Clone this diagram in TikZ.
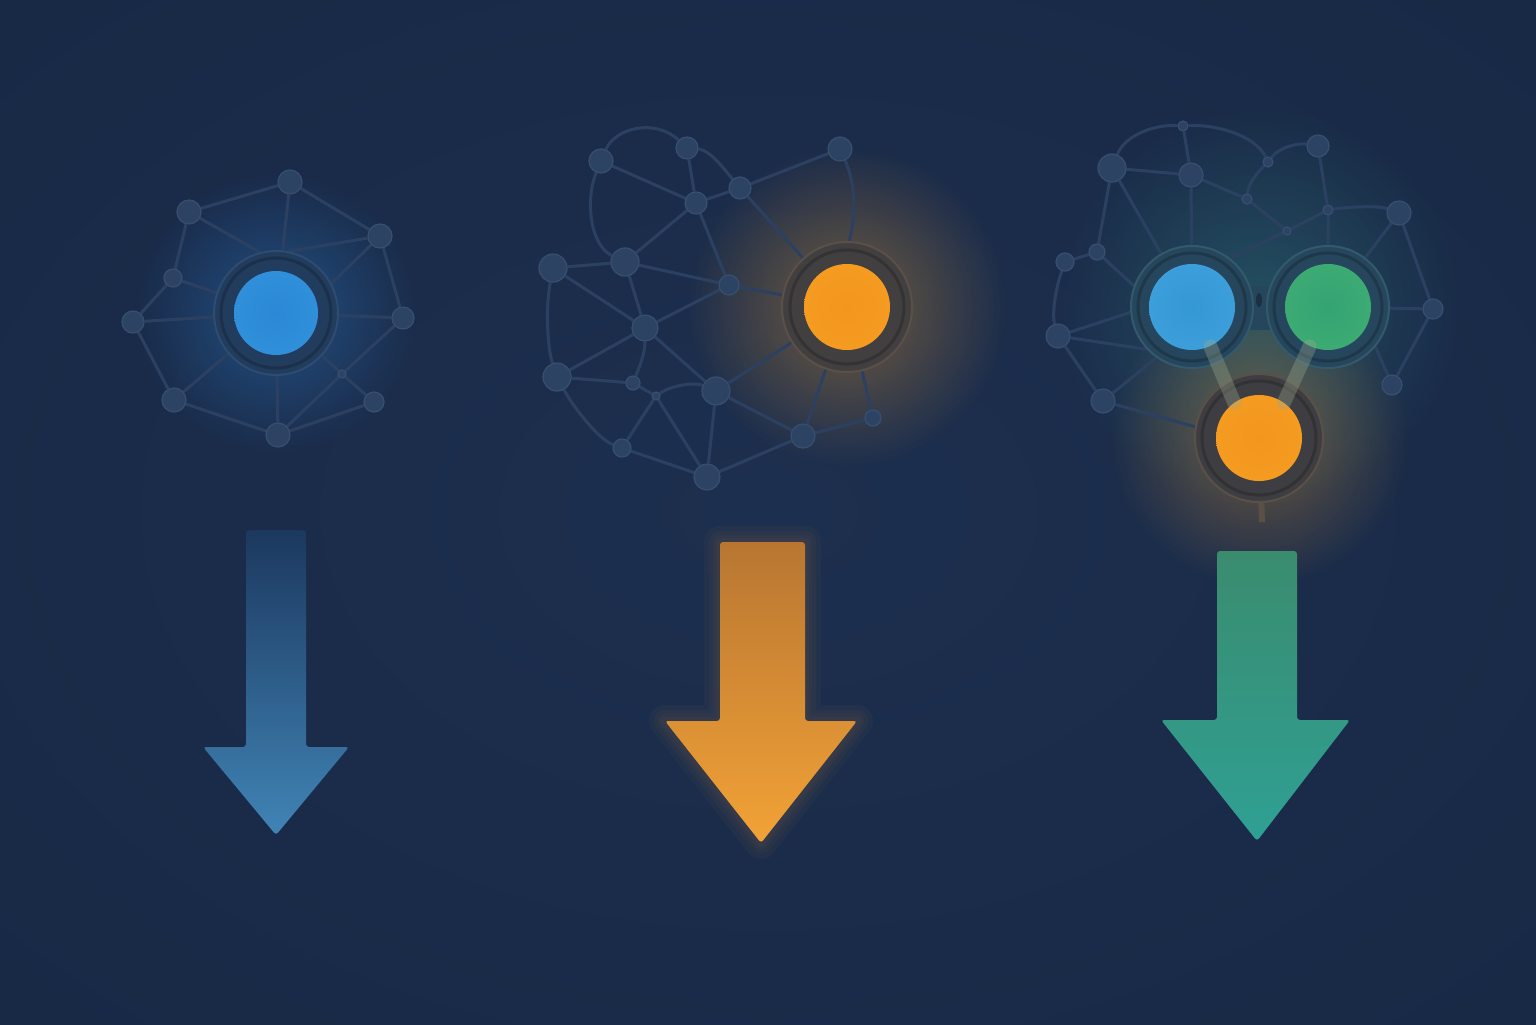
\documentclass[tikz,border=0pt]{standalone}
\usetikzlibrary{fadings}
\definecolor{bgC}{HTML}{1D2F4E}
\definecolor{bgM}{HTML}{182946}
\definecolor{bgE}{HTML}{111B32}
\definecolor{satfill}{HTML}{2D4363}
\definecolor{satedge}{HTML}{384F70}
\definecolor{edgec}{HTML}{2C4161}
\definecolor{ringB}{HTML}{223C5E}
\definecolor{ringBe}{HTML}{2E4C70}
\definecolor{ringO}{HTML}{423F41}
\definecolor{ringOe}{HTML}{5A5048}
\definecolor{ringT}{HTML}{26465D}
\definecolor{ringTe}{HTML}{335A6C}
\definecolor{ringO3}{HTML}{3E3E42}
\definecolor{cbIn}{HTML}{2A88D6}
\definecolor{cbMid}{HTML}{3494DC}
\definecolor{cbRim}{HTML}{58BEF0}
\definecolor{coIn}{HTML}{F3961E}
\definecolor{coMid}{HTML}{F59E22}
\definecolor{coRim}{HTML}{FFB834}
\definecolor{cgIn}{HTML}{34A474}
\definecolor{cgMid}{HTML}{42AE72}
\definecolor{cgRim}{HTML}{72D27A}
\definecolor{ctIn}{HTML}{3598D6}
\definecolor{ctMid}{HTML}{40A2DC}
\definecolor{ctRim}{HTML}{66CDEE}
\definecolor{glowB}{HTML}{2F86DA}
\definecolor{glowO}{HTML}{F0A030}
\definecolor{glowT}{HTML}{3FB0A0}
\definecolor{linkc}{HTML}{9AA88E}
\definecolor{a1top}{HTML}{1C385E}
\definecolor{a1bot}{HTML}{4084B6}
\definecolor{a2top}{HTML}{B87632}
\definecolor{a2bot}{HTML}{F2A236}
\definecolor{a3top}{HTML}{3A8C6E}
\definecolor{a3bot}{HTML}{2FA094}
\pgfdeclareradialshading{bgshade}{\pgfpointorigin}{color(0bp)=(bgC); color(35bp)=(bgM); color(72bp)=(bgE)}
\pgfdeclareradialshading{coreblue}{\pgfpointorigin}{color(0bp)=(cbIn); color(40bp)=(cbMid); color(50bp)=(cbRim)}
\pgfdeclareradialshading{coreorange}{\pgfpointorigin}{color(0bp)=(coIn); color(40bp)=(coMid); color(50bp)=(coRim)}
\pgfdeclareradialshading{coregreen}{\pgfpointorigin}{color(0bp)=(cgIn); color(40bp)=(cgMid); color(50bp)=(cgRim)}
\pgfdeclareradialshading{coreteal}{\pgfpointorigin}{color(0bp)=(ctIn); color(40bp)=(ctMid); color(50bp)=(ctRim)}
\tikzfading[name=glowfade, inner color=transparent!0, outer color=transparent!100]
\pgfdeclarelayer{bg}
\pgfdeclarelayer{edges}
\pgfsetlayers{bg,edges,main}
\tikzset{
  sat/.style={circle, inner sep=0pt, minimum size=#1pt, fill=satfill, draw=satedge, line width=0.6pt},
  hubring/.style={circle, inner sep=0pt, minimum size=#1pt, line width=1pt},
  core/.style={circle, inner sep=0pt, minimum size=#1pt},
  ln/.style={draw=edgec, line width=1.5pt},
  link3/.style={draw=linkc, draw opacity=0.35, line width=7pt, line cap=round},
  glow/.style={path fading=glowfade, fill opacity=#1}
}
\begin{document}
\begin{tikzpicture}[x=0.5pt, y=-0.5pt]
\useasboundingbox (0,0) rectangle (1536,1024);

% ---------- background and glows ----------
\begin{pgfonlayer}{bg}
\shade[shading=bgshade] (0,0) rectangle (1536,1024);
\fill[glowB, glow=0.4] (276,313) circle (140);
\fill[glowO, glow=0.4] (847,307) circle (160);
\fill[glowT, glow=0.28] (1260,307) circle (200);
\fill[glowO, glow=0.38] (1259,438) circle (150);
\end{pgfonlayer}

% ---------- network 1 ----------
\node[hubring=62, fill=ringB, draw=ringBe] (hub1) at (276,313) {};
\draw[draw=ringB!80!black, line width=1.5pt] (hub1.center) circle (55);
\node[core=42, shading=coreblue] (core1) at (hub1.center) {};
\node[sat=12] (n1a) at (290,182) {};
\node[sat=12] (n1b) at (189,212) {};
\node[sat=12] (n1c) at (380,236) {};
\node[sat=9]  (n1d) at (173,278) {};
\node[sat=11] (n1e) at (133,322) {};
\node[sat=11] (n1f) at (403,318) {};
\node[sat=12] (n1g) at (174,400) {};
\node[sat=10] (n1h) at (374,402) {};
\node[sat=12] (n1i) at (278,435) {};
\node[sat=4]  (n1j) at (342,374) {};

% ---------- network 2 ----------
\node[hubring=65, fill=ringO, draw=ringOe] (hub2) at (847,307) {};
\draw[draw=ringO!80!black, line width=1.5pt] (hub2.center) circle (57);
\node[core=43, shading=coreorange] (core2) at (hub2.center) {};
\node[sat=12] (n2A) at (601,161) {};
\node[sat=11] (n2B) at (687,148) {};
\node[sat=12] (n2C) at (840,149) {};
\node[sat=11] (n2D) at (740,188) {};
\node[sat=11] (n2E) at (696,203) {};
\node[sat=14] (n2F) at (553,268) {};
\node[sat=14] (n2G) at (625,262) {};
\node[sat=10] (n2H) at (729,285) {};
\node[sat=13] (n2I) at (645,328) {};
\node[sat=14] (n2J) at (557,377) {};
\node[sat=7]  (n2K) at (633,383) {};
\node[sat=4]  (n2L) at (656,396) {};
\node[sat=14] (n2M) at (716,391) {};
\node[sat=8]  (n2N) at (873,418) {};
\node[sat=12] (n2O) at (803,436) {};
\node[sat=9]  (n2P) at (622,448) {};
\node[sat=13] (n2Q) at (707,477) {};

% ---------- network 3 ----------
\fill[ringT] (1236,286) rectangle (1284,330);
\node[hubring=61, fill=ringT, draw=ringTe] (hb) at (1192,307) {};
\node[hubring=61, fill=ringT, draw=ringTe] (hg) at (1328,307) {};
\node[hubring=64, fill=ringO3, draw=ringOe] (ho) at (1259,438) {};
\fill[ringT!70!black] (1259,300) ellipse (3 and 7);
\draw[draw=ringT!80!black, line width=1.5pt] (hb.center) circle (54);
\draw[draw=ringT!80!black, line width=1.5pt] (hg.center) circle (54);
\draw[draw=ringO3!80!black, line width=1.5pt] (ho.center) circle (57);
\coordinate (stub) at (1262,522);
\node[core=43, shading=coreteal] (cb3) at (hb.center) {};
\node[core=43, shading=coregreen] (cg3) at (hg.center) {};
\node[core=43, shading=coreorange] (co3) at (ho.center) {};
\draw[link3] (cb3.-65) -- (co3.125);
\draw[link3] (cg3.-115) -- (co3.55);
\node[sat=5]  (n3a) at (1183,126) {};
\node[sat=14] (n3b) at (1112,168) {};
\node[sat=12] (n3c) at (1191,175) {};
\node[sat=11] (n3d) at (1318,146) {};
\node[sat=5]  (n3e) at (1268,162) {};
\node[sat=5]  (n3f) at (1247,199) {};
\node[sat=5]  (n3g) at (1328,210) {};
\node[sat=4]  (n3h) at (1287,231) {};
\node[sat=12] (n3i) at (1399,213) {};
\node[sat=8]  (n3j) at (1097,252) {};
\node[sat=9]  (n3k) at (1065,262) {};
\node[sat=12] (n3l) at (1058,336) {};
\node[sat=10] (n3m) at (1433,309) {};
\node[sat=10] (n3n) at (1392,385) {};
\node[sat=12] (n3o) at (1103,401) {};

% ---------- edges ----------
\begin{pgfonlayer}{edges}
% network 1
\draw[ln] (n1a) -- (n1b) (n1a) -- (n1c) (n1a) -- (hub1)
  (n1b) -- (n1d) (n1b) -- (hub1.105)
  (n1c) -- (hub1.78) (n1c) -- (hub1.28) (n1c) -- (n1f)
  (n1d) -- (hub1) (n1d) -- (n1e)
  (n1e) -- (hub1) (n1e) -- (n1g)
  (n1g) -- (hub1) (n1g) -- (n1i)
  (n1i) -- (hub1) (n1i) -- (n1j) (n1i) -- (n1h)
  (n1j) -- (n1h) (n1j) -- (hub1) (n1j) -- (n1f)
  (n1f) -- (hub1);
% network 2
\draw[ln] (n2A) .. controls (615,128) and (655,118) .. (n2B)
  (n2B) .. controls (710,150) and (725,170) .. (n2D)
  (n2A) .. controls (585,200) and (590,245) .. (n2G)
  (n2C) .. controls (856,185) and (856,215) .. (hub2.88)
  (n2F) .. controls (545,310) and (548,350) .. (n2J)
  (n2J) .. controls (575,410) and (600,440) .. (n2P)
  (n2I) .. controls (645,355) and (638,370) .. (n2K)
  (n2L) .. controls (672,385) and (695,382) .. (n2M)
  (n2A) -- (n2E) (n2B) -- (n2E) (n2E) -- (n2D) (n2D) -- (n2C)
  (n2D) -- (hub2) (n2E) -- (n2G) (n2E) -- (n2H)
  (n2F) -- (n2G) (n2F) -- (n2I) (n2G) -- (n2H) (n2G) -- (n2I)
  (n2H) -- (hub2) (n2H) -- (n2I) (n2I) -- (n2J) (n2I) -- (n2M)
  (n2J) -- (n2K) (n2K) -- (n2L) (n2L) -- (n2P) (n2L) -- (n2Q)
  (n2M) -- (hub2) (n2M) -- (n2Q) (n2M) -- (n2O)
  (hub2) -- (n2O) (hub2) -- (n2N) (n2N) -- (n2O) (n2O) -- (n2Q) (n2P) -- (n2Q);
% network 3
\draw[ln] (n3b) .. controls (1125,135) and (1155,124) .. (n3a)
  (n3a) .. controls (1215,124) and (1255,135) .. (n3e)
  (n3e) .. controls (1280,146) and (1300,143) .. (n3d)
  (n3e) .. controls (1255,175) and (1248,185) .. (n3f)
  (n3k) .. controls (1055,290) and (1052,315) .. (n3l)
  (n3g) .. controls (1355,206) and (1380,206) .. (n3i)
  (n3a) -- (n3c) (n3b) -- (n3c) (n3b) -- (n3j) (n3b) -- (hb.120)
  (n3c) -- (hb) (n3c) -- (n3f) (n3f) -- (n3h) (n3h) -- (hb.52)
  (n3h) -- (n3g) (n3d) -- (n3g) (n3g) -- (hg)
  (n3i) -- (hg) (n3i) -- (n3m) (n3m) -- (hg) (n3m) -- (n3n) (n3n) -- (hg.-40)
  (n3j) -- (n3k) (n3j) -- (hb.160) (n3l) -- (hb.185) (n3l) -- (hb.223)
  (n3l) -- (n3o) (n3o) -- (hb.235) (n3o) -- (ho.170);
\draw[ln, draw=ringOe, line width=3pt] (ho) -- (stub);
\end{pgfonlayer}

% ---------- arrows ----------
% arrow 1
\shade[top color=a1top, bottom color=a1bot, rounded corners=1.5pt]
  (246,530) -- (306,530) -- (306,747) -- (349,747) -- (276,835) -- (203,747) -- (246,747) -- cycle;
% arrow 2 glow
\foreach \w in {16,11,7,4} {
  \draw[glowO, opacity=0.035, line width=\w pt, line join=round]
    (720,542) -- (805,542) -- (805,721) -- (857,721) -- (761,843) -- (665,721) -- (720,721) -- cycle;
}
\shade[top color=a2top, bottom color=a2bot, rounded corners=1.5pt]
  (720,542) -- (805,542) -- (805,721) -- (857,721) -- (761,843) -- (665,721) -- (720,721) -- cycle;
% arrow 3
\shade[top color=a3top, bottom color=a3bot, rounded corners=1.5pt]
  (1217,551) -- (1297,551) -- (1297,720) -- (1350,720) -- (1257,841) -- (1161,720) -- (1217,720) -- cycle;
\end{tikzpicture}
\end{document}
